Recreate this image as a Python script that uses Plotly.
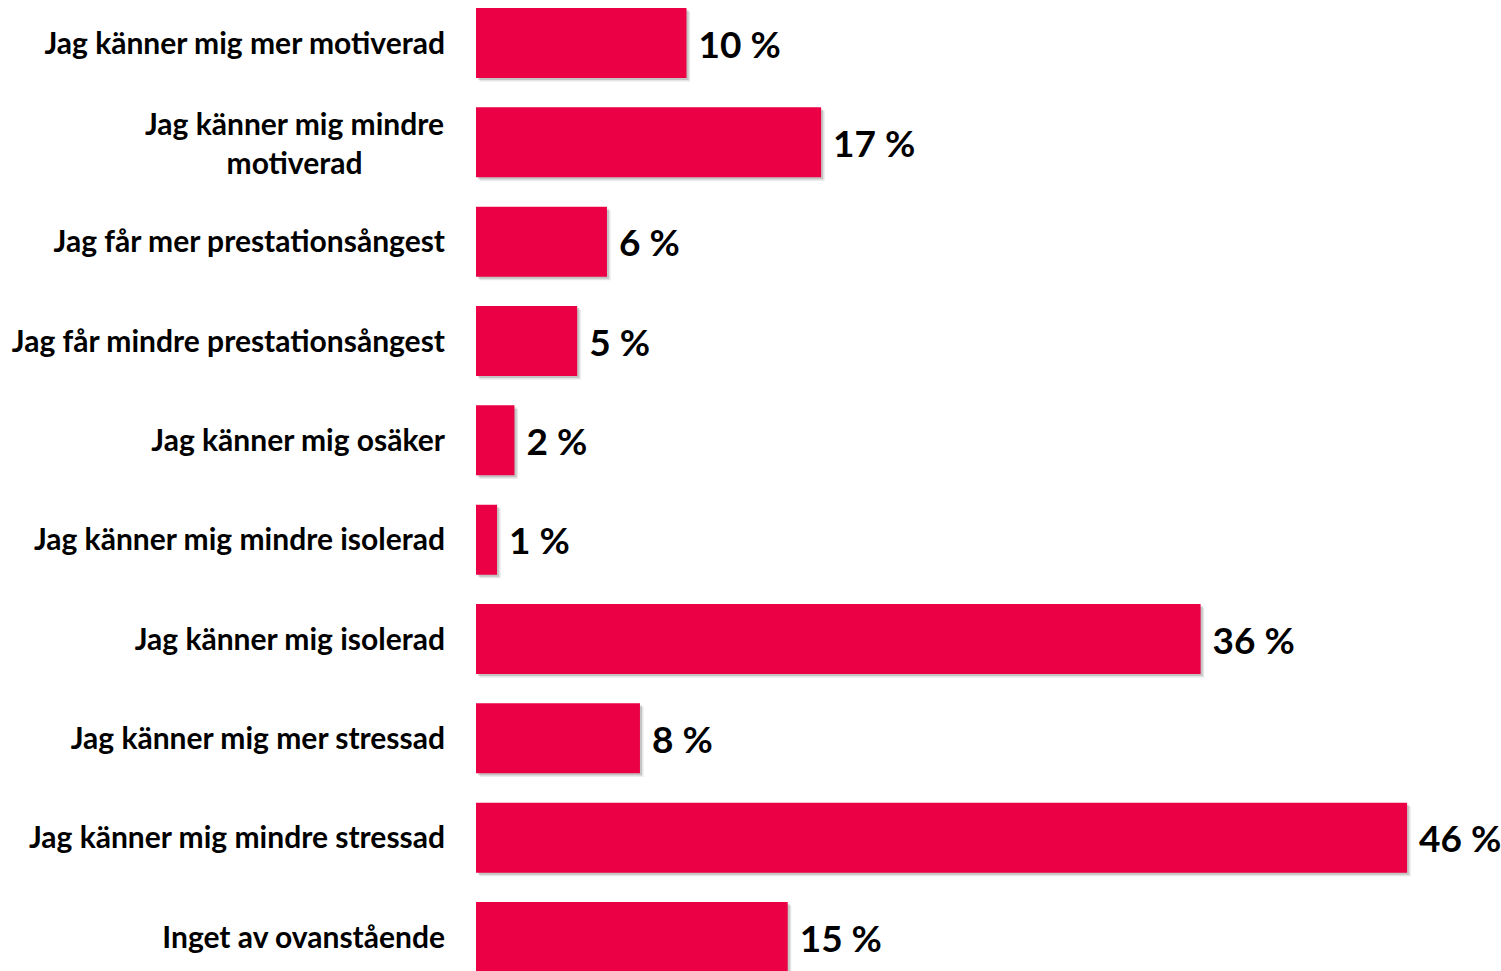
import plotly.graph_objects as go

categories = [
    "Jag känner mig mer motiverad",
    "Jag känner mig mindre<br>motiverad",
    "Jag får mer prestationsångest",
    "Jag får mindre prestationsångest",
    "Jag känner mig osäker",
    "Jag känner mig mindre isolerad",
    "Jag känner mig isolerad",
    "Jag känner mig mer stressad",
    "Jag känner mig mindre stressad",
    "Inget av ovanstående",
]
values = [10.4, 17.05, 6.47, 5.0, 1.9, 1.04, 35.8, 8.1, 46.0, 15.4]
value_labels = ["10 %", "17 %", "6 %", "5 %", "2 %", "1 %", "36 %", "8 %", "46 %", "15 %"]

positions = list(range(len(categories)))
FONT = "Lato"
BAR_W = 0.705

fig = go.Figure()
# soft drop shadow
for shift, alpha in [(0.035, 0.10), (0.02, 0.14)]:
    fig.add_trace(go.Bar(
        x=values,
        y=positions,
        base=shift * 5,
        orientation="h",
        width=BAR_W,
        offset=-BAR_W / 2 + shift,
        marker=dict(color=f"rgba(0,0,0,{alpha})", line=dict(width=0)),
        hoverinfo="skip",
    ))
fig.add_trace(go.Bar(
    x=values,
    y=positions,
    orientation="h",
    width=BAR_W,
    offset=-BAR_W / 2,
    marker=dict(color="#EB0045", line=dict(width=0)),
    text=["\u00a0" + t for t in value_labels],
    textposition="outside",
    textfont=dict(family=FONT, size=37, color="#000000", weight="bold"),
    cliponaxis=False,
    hoverinfo="skip",
))

# tick labels: multi-line label drawn as centred annotation
ticktext = ["" if "<br>" in c else "<b>" + c + "</b>" for c in categories]
for p, c in zip(positions, categories):
    if "<br>" in c:
        fig.add_annotation(
            x=0, y=p, xref="x", yref="y",
            text="<b>" + c + "</b>",
            showarrow=False, xanchor="right", yanchor="middle",
            align="center", xshift=-30,
            font=dict(family=FONT, size=30, color="#000000"),
        )

fig.update_layout(
    width=1501,
    height=971,
    margin=dict(l=476, r=0, t=0, b=0),
    paper_bgcolor="white",
    plot_bgcolor="white",
    showlegend=False,
    barmode="overlay",
    font=dict(family=FONT),
    xaxis=dict(range=[0, 50.64], visible=False, fixedrange=True),
    yaxis=dict(
        range=[9.342, -0.433],
        tickmode="array",
        tickvals=positions,
        ticktext=ticktext,
        tickfont=dict(family=FONT, size=30, color="#000000"),
        ticks="",
        showgrid=False,
        zeroline=False,
        showline=False,
        ticklabelstandoff=30,
        fixedrange=True,
    ),
)

fig.write_html(
    "out.html",
    config={"displayModeBar": False},
    post_script="document.body.style.margin='0px';document.body.style.overflow='hidden';",
)
